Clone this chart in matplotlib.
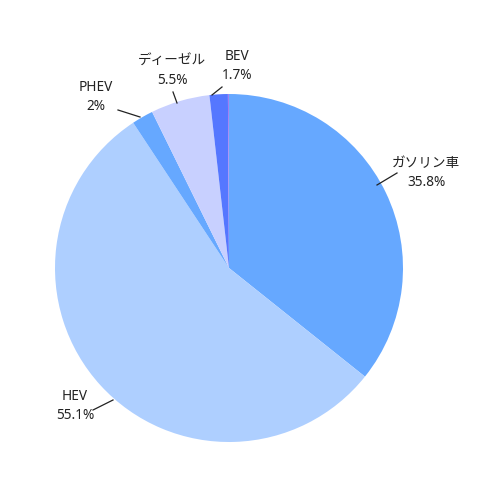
import matplotlib.pyplot as plt

plt.rcParams['font.family'] = ['Noto Sans', 'Noto Sans CJK JP', 'DejaVu Sans']

# データ
labels = ['ガソリン車', 'HEV', 'PHEV', 'ディーゼル', 'BEV', '']
values = [35.8, 55.1, 2, 5.5, 1.7, 0.1]
pct_text = ['35.8%', '55.1%', '2%', '5.5%', '1.7%', '']
colors = ['#66a8ff', '#aecfff', '#66a8ff', '#c8d0ff', '#5577ff', '#a07ff0']

# ラベル位置 (ピクセル座標, 上から)
line_start = [(377, 185), (113, 400), (140, 117), (177, 103), (212, 95)]
line_end = [(397, 173), (93, 410), (118, 110), (173, 92), (222, 87)]
text_pos = [(426, 173), (75, 406), (96, 97), (172, 71), (237, 66)]

fig = plt.figure(figsize=(5, 5), dpi=100)
ax = fig.add_axes([0, 0, 1, 1])

ax.pie(values, colors=colors, startangle=90, counterclock=False,
       center=(229, 500 - 268), radius=174, normalize=True,
       wedgeprops=dict(linewidth=0))

for i in range(5):
    x0, y0 = line_start[i]
    x1, y1 = line_end[i]
    ax.plot([x0, x1], [500 - y0, 500 - y1], color='#222222', lw=0.9)
    tx, ty = text_pos[i]
    ax.text(tx, 500 - ty, labels[i] + '\n' + pct_text[i], ha='center', va='center',
            fontsize=9.8, color='#222222', linespacing=1.45)

ax.set_xlim(0, 500)
ax.set_ylim(0, 500)
ax.set_aspect('equal')
ax.axis('off')

fig.savefig('out.png', dpi=100)
